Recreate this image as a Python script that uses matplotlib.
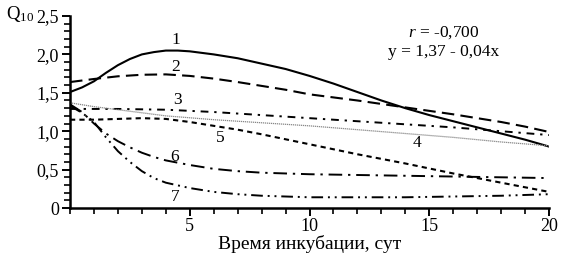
import matplotlib
matplotlib.use("Agg")
import matplotlib.pyplot as plt
from matplotlib.ticker import MultipleLocator, FuncFormatter

plt.rcParams['font.family'] = ['Liberation Serif', 'DejaVu Serif']
plt.rcParams['mathtext.fontset'] = 'custom'
plt.rcParams['mathtext.rm'] = 'Liberation Serif'
plt.rcParams['mathtext.it'] = 'Liberation Serif:italic'

# ---- data ----
x1 = [0, 0.5, 1, 1.5, 2, 2.5, 3, 3.5, 4, 4.5, 5, 6, 7, 8, 9, 10, 11, 12, 13, 14, 15, 16, 17, 18, 19, 20]
y1 = [1.51, 1.57, 1.65, 1.76, 1.86, 1.94, 2.00, 2.03, 2.05, 2.05, 2.04, 2.00, 1.95, 1.88, 1.81, 1.72,
      1.62, 1.51, 1.40, 1.30, 1.21, 1.13, 1.05, 0.97, 0.89, 0.80]

x2 = [0, 1, 2, 3, 4, 5, 6, 7, 8, 9, 10, 11, 12, 13, 14, 15, 16, 17, 18, 19, 20]
y2 = [1.64, 1.68, 1.715, 1.735, 1.74, 1.72, 1.685, 1.64, 1.59, 1.54, 1.48, 1.44, 1.40, 1.355, 1.31,
      1.265, 1.22, 1.17, 1.12, 1.06, 0.99]

x3 = [0, 2, 4, 6, 8, 10, 12, 14, 16, 18, 20]
y3 = [1.29, 1.29, 1.28, 1.25, 1.21, 1.17, 1.13, 1.09, 1.05, 1.00, 0.95]

x4 = [0, 1, 2, 3, 4, 6, 8, 10, 12, 14, 16, 18, 20]
y4 = [1.37, 1.32, 1.28, 1.24, 1.20, 1.15, 1.11, 1.07, 1.02, 0.97, 0.92, 0.86, 0.81]

x5 = [0, 1, 2, 3, 4, 5, 6, 7, 8, 10, 12, 14, 16, 18, 20]
y5 = [1.15, 1.15, 1.16, 1.17, 1.16, 1.12, 1.07, 1.02, 0.96, 0.83, 0.70, 0.58, 0.45, 0.33, 0.21]

x6 = [0, 0.5, 1, 1.5, 2, 2.5, 3, 3.5, 4, 5, 6, 7, 8, 10, 12, 14, 16, 18, 20]
y6 = [1.35, 1.25, 1.10, 0.97, 0.87, 0.79, 0.72, 0.665, 0.62, 0.56, 0.51, 0.48, 0.46, 0.44, 0.43, 0.42,
      0.41, 0.40, 0.39]

x7 = [0, 0.5, 1, 1.5, 2, 2.5, 3, 3.5, 4, 5, 6, 7, 8, 10, 12, 14, 16, 18, 20]
y7 = [1.33, 1.24, 1.12, 0.92, 0.74, 0.60, 0.48, 0.39, 0.33, 0.26, 0.21, 0.18, 0.16, 0.14, 0.14, 0.14,
      0.15, 0.16, 0.18]

curve_labels = ['1', '2', '3', '4', '5', '6', '7']
label_x = [4.4, 4.4, 4.47, 14.5, 6.26, 4.38, 4.38]
label_y = [2.19, 1.84, 1.41, 0.85, 0.91, 0.66, 0.14]

x_ticks = [5, 10, 15, 20]
y_ticks = [0, 0.5, 1.0, 1.5, 2.0, 2.5]

fig = plt.figure(figsize=(5.73, 2.54), dpi=100)
ax = fig.add_axes([0.1222, 0.181, 0.836, 0.756])

ax.plot(x1, y1, color='black', lw=1.5, linestyle='-')
ax.plot(x2, y2, color='black', lw=1.5, linestyle=(0, (6, 3)))
ax.plot(x3, y3, color='black', lw=1.4, linestyle=(0, (4, 3, 1.2, 3)))
ax.plot(x4, y4, color='#888888', lw=0.9, linestyle=(0, (1, 0.6)))
ax.plot(x5, y5, color='black', lw=1.5, linestyle=(0, (2.5, 2)))
ax.plot(x6, y6, color='black', lw=1.4, linestyle=(0, (7, 3, 1.2, 3)))
ax.plot(x7, y7, color='black', lw=1.4, linestyle=(0, (6, 2.5, 1, 2.5, 1, 2.5)))

for t, lx, ly in zip(curve_labels, label_x, label_y):
    ax.text(lx, ly, t, fontsize=12.5, ha='center', va='center')

ax.text(15.6, 2.28, '$\\it{r}$ = -0,700', fontsize=12.5, ha='center', va='center')
ax.text(15.6, 2.03, 'y = 1,37 - 0,04x', fontsize=12.5, ha='center', va='center')

ax.set_xlim(0, 20)
ax.set_ylim(0, 2.5)
ax.set_xticks(x_ticks)
ax.set_yticks(y_ticks)
ax.xaxis.set_minor_locator(MultipleLocator(1))
ax.yaxis.set_minor_locator(MultipleLocator(0.1))

def fmt(v, pos):
    if abs(v) < 1e-9:
        return '0'
    return ('%.1f' % v).replace('.', ',')

ax.yaxis.set_major_formatter(FuncFormatter(fmt))
ax.xaxis.set_major_formatter(FuncFormatter(lambda v, p: '%d' % v))

for s in ['top', 'right']:
    ax.spines[s].set_visible(False)
for s in ['left', 'bottom']:
    ax.spines[s].set_linewidth(1.8)

ax.tick_params(which='major', direction='out', length=6, width=1.4, labelsize=13)
ax.tick_params(which='minor', direction='out', length=4, width=1.2)
ax.tick_params(axis='x', pad=1)
ax.tick_params(axis='y', pad=2)

ax.set_xlabel('Время инкубации, сут', fontsize=14, labelpad=0)
fig.text(0.01, 0.945, 'Q$_{\\mathregular{10}}$', fontsize=13.5, ha='left', va='center')

fig.savefig('out.png', dpi=100)
